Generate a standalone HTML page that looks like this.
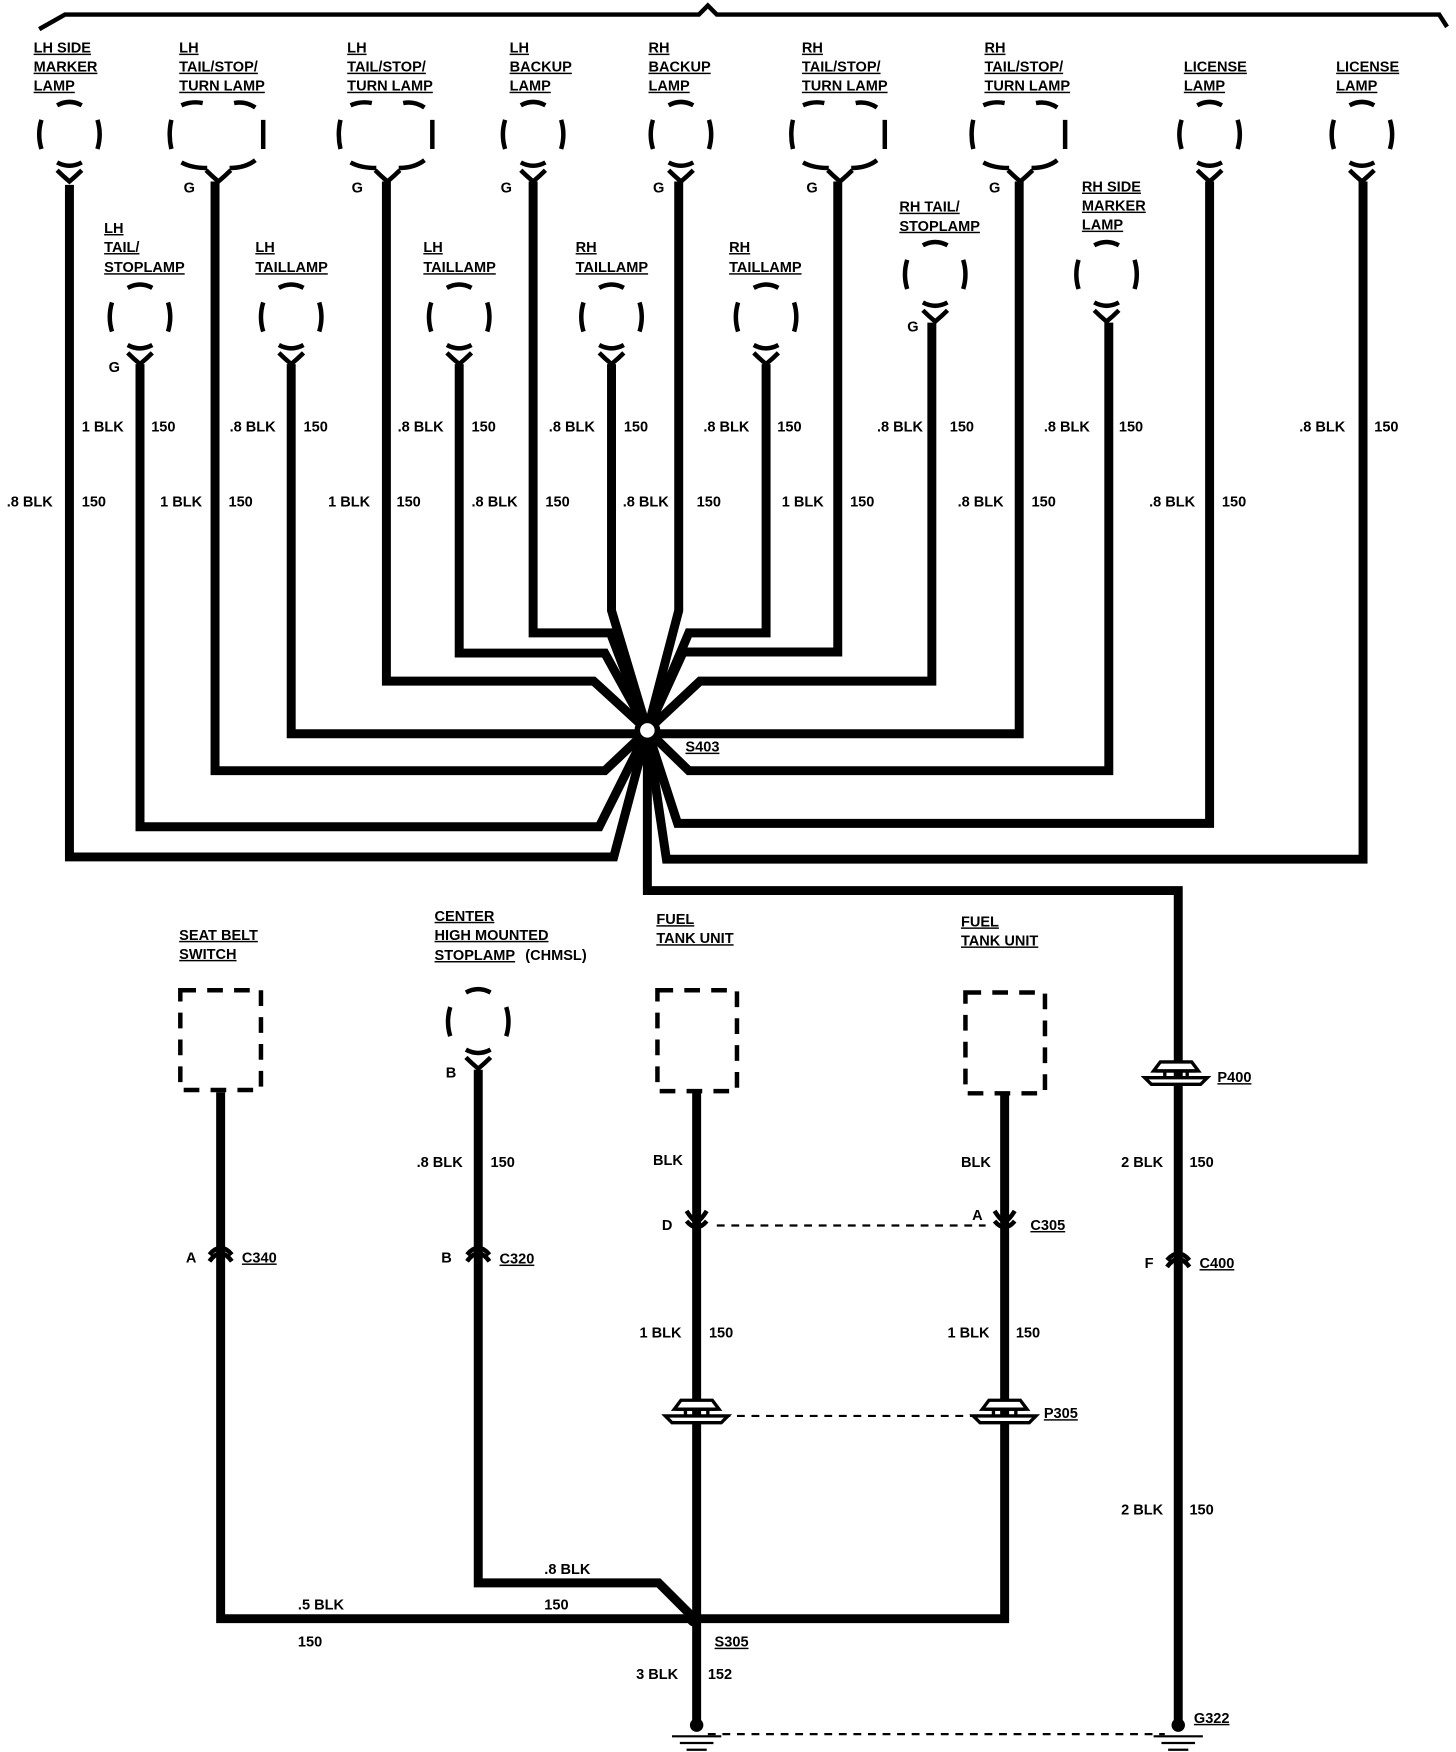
<!DOCTYPE html>
<html><head><meta charset="utf-8"><style>
html,body{margin:0;padding:0;background:#fff;}
svg{display:block;}
text{font-family:"Liberation Sans Narrow","Liberation Sans",sans-serif;font-weight:bold;font-size:13px;fill:#000;}
.u{text-decoration:underline;}
</style></head><body>
<svg width="1456" height="1752" viewBox="0 0 1300 1564" preserveAspectRatio="none" xmlns="http://www.w3.org/2000/svg">
<defs>
<g id="lamp">
<path d="M-11,-26 Q0,-32 11,-26" fill="none" stroke="#000" stroke-width="4"/>
<path d="M-25,-13 Q-29,0 -25,13 M25,-13 Q29,0 25,13" fill="none" stroke="#000" stroke-width="4"/>
<path d="M-11,25 Q0,31 11,25" fill="none" stroke="#000" stroke-width="4"/>
<path d="M-11,32 Q-6,37 0,42 Q6,37 11,32" fill="none" stroke="#000" stroke-width="4"/>
</g>
<g id="wlamp">
<path d="M-33,-26 Q-24,-30 -14,-28 M14,-28 Q24,-30 33,-24" fill="none" stroke="#000" stroke-width="4"/>
<path d="M-42,-13 Q-45,0 -42,13 M40,-13 L40,13" fill="none" stroke="#000" stroke-width="4"/>
<path d="M-33,25 Q-24,30 -10,30 M10,30 Q24,30 33,23" fill="none" stroke="#000" stroke-width="4"/>
<path d="M-11,32 Q-6,37 0,42 Q6,37 11,32" fill="none" stroke="#000" stroke-width="4"/>
</g>
<g id="conUp">
<path d="M-10,6 Q0,-8 10,6 M-10,0 Q0,-12 10,0" fill="none" stroke="#000" stroke-width="4"/>
</g>
<g id="conDn">
<path d="M-9,-12 Q-4,-4 0,-2 Q4,-4 9,-12 M-9,-3 Q0,8 9,-3" fill="none" stroke="#000" stroke-width="4"/>
</g>
<g id="pass">
<path d="M-20,-4 L-14,-12 L14,-12 L20,-4 Z" fill="#fff" stroke="#000" stroke-width="3"/>
<path d="M-28,2 L28,2 L22,8 L-22,8 Z" fill="#fff" stroke="#000" stroke-width="3"/>
<path d="M-18,-4 L18,-4 M-10,-4 L-10,2 M10,-4 L10,2" stroke="#000" stroke-width="3"/>
</g>
</defs>

<!-- top bus line -->
<path d="M35,26 L58,13 L624,13 L632,5 L640,13 L1285,13 L1292,24" fill="none" stroke="#000" stroke-width="4"/>

<!-- wires -->
<g fill="none" stroke="#000" stroke-width="8" stroke-linejoin="miter">
<path d="M62,165 L62,765 L548,765 L578,652"/>
<path d="M125,325 L125,738 L535,738 L578,652"/>
<path d="M192,162 L192,688 L540,688 L578,652"/>
<path d="M260,325 L260,655 L578,655"/>
<path d="M345,162 L345,608 L530,608 L578,652"/>
<path d="M410,325 L410,583 L540,583 L578,652"/>
<path d="M476,162 L476,565 L545,565 L578,652"/>
<path d="M546,325 L546,545 L578,652"/>
<path d="M606,162 L606,545 L578,652"/>
<path d="M684,325 L684,565 L615,565 L578,652"/>
<path d="M748,162 L748,582 L610,582 L578,652"/>
<path d="M832,288 L832,608 L625,608 L578,652"/>
<path d="M910,162 L910,655 L578,655"/>
<path d="M990,288 L990,688 L615,688 L578,652"/>
<path d="M1080,162 L1080,735 L605,735 L578,652"/>
<path d="M1217,162 L1217,767 L595,767 L578,652"/>
<path d="M578,652 L578,795 L1052,795 L1052,1540"/>
<!-- bottom -->
<path d="M197,975 L197,1445 L620,1445"/>
<path d="M427,955 L427,1413 L588,1413 L620,1445"/>
<path d="M622,975 L622,1540"/>
<path d="M897,977 L897,1445 L620,1445"/>
</g>
<circle cx="578" cy="652" r="9" fill="#fff" stroke="#000" stroke-width="5"/>
<circle cx="620" cy="1445" r="7" fill="#000"/>

<!-- lamps row 1 -->
<use href="#lamp" x="62" y="120"/>
<use href="#wlamp" x="195" y="120"/>
<use href="#wlamp" x="346" y="120"/>
<use href="#lamp" x="476" y="120"/>
<use href="#lamp" x="608" y="120"/>
<use href="#wlamp" x="750" y="120"/>
<use href="#wlamp" x="911" y="120"/>
<use href="#lamp" x="1080" y="120"/>
<use href="#lamp" x="1216" y="120"/>
<!-- lamps row 2 -->
<use href="#lamp" x="125" y="283"/>
<use href="#lamp" x="260" y="283"/>
<use href="#lamp" x="410" y="283"/>
<use href="#lamp" x="546" y="283"/>
<use href="#lamp" x="684" y="283"/>
<use href="#lamp" x="835" y="245"/>
<use href="#lamp" x="988" y="245"/>
<use href="#lamp" x="427" y="912"/>

<!-- dashed boxes -->
<g fill="none" stroke="#000" stroke-width="4" stroke-dasharray="14,10">
<rect x="161" y="884" width="72" height="89"/>
<rect x="587" y="884" width="71" height="90"/>
<rect x="862" y="886" width="71" height="90"/>
</g>
<g fill="none" stroke="#000" stroke-width="2" stroke-dasharray="7,6">
<path d="M640,1094 L880,1094"/>
<path d="M645,1264 L868,1264"/>
<path d="M632,1548 L1040,1548"/>
</g>

<!-- connectors -->
<use href="#conUp" x="197" y="1120"/>
<use href="#conUp" x="427" y="1120"/>
<use href="#conUp" x="1052" y="1125"/>
<use href="#conDn" x="622" y="1093"/>
<use href="#conDn" x="897" y="1093"/>
<use href="#pass" x="622" y="1262"/>
<use href="#pass" x="897" y="1262"/>
<use href="#pass" x="1050" y="960"/>

<!-- grounds -->
<circle cx="622" cy="1540" r="6" fill="#000"/>
<circle cx="1052" cy="1540" r="6" fill="#000"/>
<g stroke="#000" stroke-width="2">
<path d="M600,1550 L644,1550 M607,1556 L637,1556 M613,1562 L631,1562"/>
<path d="M1030,1550 L1074,1550 M1037,1556 L1067,1556 M1043,1562 L1061,1562"/>
</g>

<!-- lamp labels -->
<g class="u">
<text x="30" y="47">LH SIDE</text><text x="30" y="64">MARKER</text><text x="30" y="81">LAMP</text>
<text x="160" y="47">LH</text><text x="160" y="64">TAIL/STOP/</text><text x="160" y="81">TURN LAMP</text>
<text x="310" y="47">LH</text><text x="310" y="64">TAIL/STOP/</text><text x="310" y="81">TURN LAMP</text>
<text x="455" y="47">LH</text><text x="455" y="64">BACKUP</text><text x="455" y="81">LAMP</text>
<text x="579" y="47">RH</text><text x="579" y="64">BACKUP</text><text x="579" y="81">LAMP</text>
<text x="716" y="47">RH</text><text x="716" y="64">TAIL/STOP/</text><text x="716" y="81">TURN LAMP</text>
<text x="879" y="47">RH</text><text x="879" y="64">TAIL/STOP/</text><text x="879" y="81">TURN LAMP</text>
<text x="1057" y="64">LICENSE</text><text x="1057" y="81">LAMP</text>
<text x="1193" y="64">LICENSE</text><text x="1193" y="81">LAMP</text>
<text x="93" y="208">LH</text><text x="93" y="225">TAIL/</text><text x="93" y="243">STOPLAMP</text>
<text x="228" y="225">LH</text><text x="228" y="243">TAILLAMP</text>
<text x="378" y="225">LH</text><text x="378" y="243">TAILLAMP</text>
<text x="514" y="225">RH</text><text x="514" y="243">TAILLAMP</text>
<text x="651" y="225">RH</text><text x="651" y="243">TAILLAMP</text>
<text x="803" y="189">RH TAIL/</text><text x="803" y="206">STOPLAMP</text>
<text x="966" y="171">RH SIDE</text><text x="966" y="188">MARKER</text><text x="966" y="205">LAMP</text>
<text x="160" y="839">SEAT BELT</text><text x="160" y="856">SWITCH</text>
<text x="388" y="822">CENTER</text><text x="388" y="839">HIGH MOUNTED</text><text x="388" y="857">STOPLAMP</text>
<text x="586" y="825">FUEL</text><text x="586" y="842">TANK UNIT</text>
<text x="858" y="827">FUEL</text><text x="858" y="844">TANK UNIT</text>
<text x="612" y="671">S403</text>
<text x="216" y="1127">C340</text><text x="446" y="1128">C320</text>
<text x="920" y="1098">C305</text><text x="932" y="1266">P305</text>
<text x="1087" y="966">P400</text><text x="1071" y="1132">C400</text>
<text x="638" y="1470">S305</text><text x="1066" y="1538">G322</text>
</g>
<text x="469" y="857">(CHMSL)</text>

<!-- pin letters -->
<text x="164" y="172">G</text><text x="314" y="172">G</text><text x="447" y="172">G</text>
<text x="583" y="172">G</text><text x="720" y="172">G</text><text x="883" y="172">G</text>
<text x="97" y="332">G</text><text x="810" y="296">G</text>
<text x="398" y="962">B</text>
<text x="166" y="1127">A</text><text x="394" y="1127">B</text>
<text x="591" y="1098">D</text><text x="868" y="1089">A</text><text x="1022" y="1132">F</text>

<!-- wire labels -->
<text x="73" y="385">1 BLK</text><text x="135" y="385">150</text>
<text x="205" y="385">.8 BLK</text><text x="271" y="385">150</text>
<text x="355" y="385">.8 BLK</text><text x="421" y="385">150</text>
<text x="490" y="385">.8 BLK</text><text x="557" y="385">150</text>
<text x="628" y="385">.8 BLK</text><text x="694" y="385">150</text>
<text x="783" y="385">.8 BLK</text><text x="848" y="385">150</text>
<text x="932" y="385">.8 BLK</text><text x="999" y="385">150</text>
<text x="1160" y="385">.8 BLK</text><text x="1227" y="385">150</text>

<text x="6" y="452">.8 BLK</text><text x="73" y="452">150</text>
<text x="143" y="452">1 BLK</text><text x="204" y="452">150</text>
<text x="293" y="452">1 BLK</text><text x="354" y="452">150</text>
<text x="421" y="452">.8 BLK</text><text x="487" y="452">150</text>
<text x="556" y="452">.8 BLK</text><text x="622" y="452">150</text>
<text x="698" y="452">1 BLK</text><text x="759" y="452">150</text>
<text x="855" y="452">.8 BLK</text><text x="921" y="452">150</text>
<text x="1026" y="452">.8 BLK</text><text x="1091" y="452">150</text>

<text x="372" y="1042">.8 BLK</text><text x="438" y="1042">150</text>
<text x="583" y="1040">BLK</text><text x="858" y="1042">BLK</text>
<text x="1001" y="1042">2 BLK</text><text x="1062" y="1042">150</text>
<text x="571" y="1194">1 BLK</text><text x="633" y="1194">150</text>
<text x="846" y="1194">1 BLK</text><text x="907" y="1194">150</text>
<text x="1001" y="1352">2 BLK</text><text x="1062" y="1352">150</text>
<text x="486" y="1405">.8 BLK</text><text x="486" y="1437">150</text>
<text x="266" y="1437">.5 BLK</text><text x="266" y="1470">150</text>
<text x="568" y="1499">3 BLK</text><text x="632" y="1499">152</text>
</svg>
</body></html>
